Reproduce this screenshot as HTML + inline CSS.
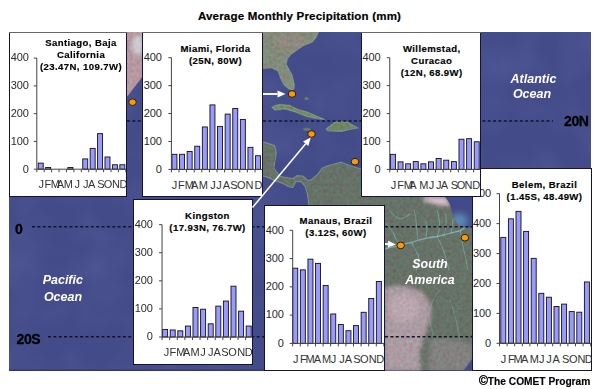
<!DOCTYPE html>
<html><head><meta charset="utf-8"><style>
html,body{margin:0;padding:0;background:#fff;}
body{width:599px;height:389px;overflow:hidden;position:relative;}
svg{position:absolute;left:0;top:0;}
text{font-family:"Liberation Sans",sans-serif;}
.tt{font-size:9.6px;letter-spacing:0.4px;font-weight:bold;text-anchor:middle;fill:#000;stroke:#000;stroke-width:0.15px;}
.yl{font-size:11px;letter-spacing:-0.1px;text-anchor:end;fill:#2a2a2a;}
.ml{font-size:11px;text-anchor:middle;fill:#333;}
.lat{font-size:14px;letter-spacing:-0.4px;font-weight:bold;fill:#000;stroke:#000;stroke-width:0.3px;}
.oc{font-size:12.5px;font-weight:bold;font-style:italic;fill:#fff;text-anchor:middle;}
.ti{font-size:11.5px;letter-spacing:0.2px;font-weight:bold;fill:#000;stroke:#000;stroke-width:0.2px;text-anchor:middle;}
.cp{font-size:10.2px;font-weight:bold;fill:#000;stroke:#000;stroke-width:0.15px;}
</style></head><body>
<svg width="599" height="389" viewBox="0 0 599 389">
<text x="299.5" y="20" class="ti">Average Monthly Precipitation (mm)</text>
<rect x="9" y="32" width="582" height="339" fill="rgb(67,76,137)"/>
<defs><filter id="mott" x="0" y="0" width="100%" height="100%"><feTurbulence type="fractalNoise" baseFrequency="0.025" numOctaves="2" seed="3"/><feColorMatrix type="matrix" values="0 0 0 0 0.45  0 0 0 0 0.5  0 0 0 0 0.8  1.2 0 0 0 -0.45"/></filter></defs>
<rect x="9" y="32" width="582" height="338" filter="url(#mott)" opacity="0.14"/>
<rect x="9" y="369.6" width="582" height="1.2" fill="rgb(45,50,105)"/>
<defs><filter id="soft" x="-5%" y="-5%" width="110%" height="110%"><feGaussianBlur stdDeviation="0.5"/></filter><filter id="blur2" x="-50%" y="-50%" width="200%" height="200%"><feGaussianBlur stdDeviation="2.2"/></filter><filter id="blur3" x="-50%" y="-50%" width="200%" height="200%"><feGaussianBlur stdDeviation="3"/></filter><filter id="noise" x="0" y="0" width="100%" height="100%"><feTurbulence type="fractalNoise" baseFrequency="0.3" numOctaves="2" seed="7"/><feColorMatrix type="matrix" values="1.0 -0.2 0 0 0.1  -0.3 0.9 0 0 0.2  0.5 0.5 0 0 0  0 0 0 0 1"/></filter><clipPath id="mapclip"><rect x="9" y="32" width="582" height="338"/></clipPath><clipPath id="landclip"><polygon points="126,32 143,32 143,76 136,85 130,93 126,98"/><polygon points="262,32 318.5,32 316.2,37.2 312,42.3 303.8,45.4 297.6,49.5 290.4,54.7 287.3,58.8 286.3,64 287.4,66.6 292,74.7 294.4,85 294,88.5 292.5,90.2 288.6,88.8 284,85 280.5,78.1 278.2,71.2 272.4,68.3 262,68.9"/><polygon points="271.9,107.2 275,105.5 279.9,104.4 289.5,105.3 298,109.5 306.6,111.7 314,114.9 324.8,119.6 317.3,118.6 306.6,116.4 295.9,112.2 285.2,108.9 279,109.6 274.5,110"/><polygon points="326,129 335,122 346,121.4 358,128 349.8,129.5 341.8,131.4 327.8,131"/><polygon points="303,128.5 307,127.5 311,129 310,131 304,130.5"/><polygon points="262,142 265,142.4 274.6,145.4 276.4,152.6 274.6,163.4 274,168 276,171 280.5,176.5 286.7,177.5 292.8,178.5 297,175.6 303.1,176 308.2,180.6 311.3,179.6 317.5,174.4 322,168.2 327,166 341,162 348.6,164.9 358,168 362,168.5 362,197 473,197 473,371 384,371 384,206 308.5,206 308.2,200 307.2,193.9 305.2,186.7 301,181.6 296,181.6 292.8,187.7 288.7,186.7 282.6,183.6 274.3,180.6 265,176.4 262,176"/></clipPath></defs>
<g filter="url(#soft)" clip-path="url(#mapclip)"><polygon points="126,32 143,32 143,76 136,85 130,93 126,98" fill="rgb(168,132,142)"/><polygon points="262,32 318.5,32 316.2,37.2 312,42.3 303.8,45.4 297.6,49.5 290.4,54.7 287.3,58.8 286.3,64 287.4,66.6 292,74.7 294.4,85 294,88.5 292.5,90.2 288.6,88.8 284,85 280.5,78.1 278.2,71.2 272.4,68.3 262,68.9" fill="rgb(112,120,104)"/><polygon points="271.9,107.2 275,105.5 279.9,104.4 289.5,105.3 298,109.5 306.6,111.7 314,114.9 324.8,119.6 317.3,118.6 306.6,116.4 295.9,112.2 285.2,108.9 279,109.6 274.5,110" fill="rgb(100,120,80)"/><polygon points="326,129 335,122 346,121.4 358,128 349.8,129.5 341.8,131.4 327.8,131" fill="rgb(96,115,82)"/><polygon points="303,128.5 307,127.5 311,129 310,131 304,130.5" fill="rgb(92,108,84)"/><polygon points="262,142 265,142.4 274.6,145.4 276.4,152.6 274.6,163.4 274,168 276,171 280.5,176.5 286.7,177.5 292.8,178.5 297,175.6 303.1,176 308.2,180.6 311.3,179.6 317.5,174.4 322,168.2 327,166 341,162 348.6,164.9 358,168 362,168.5 362,197 473,197 473,371 384,371 384,206 308.5,206 308.2,200 307.2,193.9 305.2,186.7 301,181.6 296,181.6 292.8,187.7 288.7,186.7 282.6,183.6 274.3,180.6 265,176.4 262,176" fill="rgb(88,98,88)"/><ellipse cx="306.5" cy="98.5" rx="2" ry="1.6" fill="rgb(110,140,120)" opacity="0.8"/><polyline points="318.5,32 316.2,37.2 312,42.3 303.8,45.4 297.6,49.5 290.4,54.7 287.3,58.8 286.3,64 287.4,66.6 292,74.7 294.4,85 294,88.5 292.5,90.2 288.6,88.8 284,85 280.5,78.1 278.2,71.2 272.4,68.3" fill="none" stroke="rgb(135,160,150)" stroke-width="1.1" opacity="0.55"/><polygon points="271.9,107.2 275,105.5 279.9,104.4 289.5,105.3 298,109.5 306.6,111.7 314,114.9 324.8,119.6 317.3,118.6 306.6,116.4 295.9,112.2 285.2,108.9 279,109.6 274.5,110" fill="none" stroke="rgb(135,160,150)" stroke-width="1.1" opacity="0.55"/><polygon points="326,129 335,122 346,121.4 358,128 349.8,129.5 341.8,131.4 327.8,131" fill="none" stroke="rgb(135,160,150)" stroke-width="1.1" opacity="0.55"/><polyline points="262,142 265,142.4 274.6,145.4 276.4,152.6 274.6,163.4 274,168 276,171 280.5,176.5 286.7,177.5 292.8,178.5 297,175.6 303.1,176 308.2,180.6 311.3,179.6 317.5,174.4 322,168.2 327,166 341,162 348.6,164.9 358,168 362,168.5" fill="none" stroke="rgb(135,160,150)" stroke-width="1.1" opacity="0.55"/><polyline points="308.5,206 308.2,200 307.2,193.9 305.2,186.7 301,181.6 296,181.6 292.8,187.7 288.7,186.7 282.6,183.6 274.3,180.6 265,176.4 262,176" fill="none" stroke="rgb(135,160,150)" stroke-width="1.1" opacity="0.55"/><path d="M384,249 Q392,247 400,245.3 Q406,243.5 411.8,242.3 Q418,240 423.4,238.8 Q430,237.5 437.2,236.5 Q444,235 451,233 Q456,232 460.4,230.7 Q463,229 465,227.2" fill="none" stroke="rgb(112,165,168)" stroke-linecap="round" stroke-width="1.3" opacity="0.85"/><path d="M400,245.3 Q396,240 393.3,233 Q390,228 386.3,223.8 M418,240 Q417,232 416.4,223.8 Q416,216 414,210 M437.2,236.5 Q440,230 439.5,223.8 Q439,216 437.2,210 M451,233 Q453,226 453,219 M411.8,242.3 Q416,252 418.7,256 Q418,265 416.4,270 M437.2,236.5 Q442,246 444,252 Q447,262 449,270 M460.4,230.7 Q462,240 463,247 Q466,258 468,270 M389,210 Q396,219 401,219 Q407,217 410,214 M426,238 Q428,230 426,222 M444,235 Q447,226 446,214" fill="none" stroke="rgb(112,165,168)" stroke-linecap="round" stroke-width="0.9" opacity="0.6"/><path d="M395,290 Q400,300 404,315 M420,300 Q428,310 432,330 Q436,345 440,360 M450,300 Q456,315 460,340 M405,340 Q415,350 425,365 M440,290 Q430,300 428,320" fill="none" stroke="rgb(112,165,168)" stroke-linecap="round" stroke-width="0.8" opacity="0.4"/></g>
<g clip-path="url(#landclip)"><g filter="url(#blur2)"><path d="M424,197 L444,197 Q449,201 450,205 Q444,206 436,204 Q428,202 424,201 Z" fill="rgb(215,180,195)"/><path d="M384,288 Q402,282 422,292 Q434,304 430,320 Q424,336 420,350 Q418,362 422,371 L384,371 Z" fill="rgb(155,136,144)"/><ellipse cx="404" cy="308" rx="15" ry="14" fill="rgb(185,162,172)" opacity="0.55"/><path d="M430,340 Q450,335 473,345 L473,371 L428,371 Z" fill="rgb(135,125,130)" opacity="0.5"/><ellipse cx="290" cy="42" rx="16" ry="8" fill="rgb(140,115,120)" opacity="0.45"/><ellipse cx="138" cy="45" rx="6" ry="10" fill="rgb(205,222,225)" opacity="0.7"/></g></g>
<g clip-path="url(#landclip)" opacity="0.35" style="mix-blend-mode:overlay"><rect x="9" y="32" width="582" height="338" filter="url(#noise)"/></g>
<defs><clipPath id="gclip"><path d="M444,196 L473,196 L473,227.5 L461,227.3 Q457,224 455.7,221.8 Q453.5,218 452.6,214.6 Q451.8,210 450.6,206.3 Q449,202 447.5,200 Q446,197.5 444,196 Z"/></clipPath></defs>
<g filter="url(#soft)"><path d="M444,196 L473,196 L473,227.5 L461,227.3 Q457,224 455.7,221.8 Q453.5,218 452.6,214.6 Q451.8,210 450.6,206.3 Q449,202 447.5,200 Q446,197.5 444,196 Z" fill="rgb(67,76,137)"/><polygon points="464,370 473,358 473,370" fill="rgb(67,76,137)"/></g>
<g clip-path="url(#gclip)"><ellipse cx="459" cy="221" rx="9" ry="8" fill="rgb(105,160,195)" opacity="0.7" filter="url(#blur3)"/></g>
<line x1="263" y1="121" x2="553" y2="121" stroke="#141428" stroke-width="1.5" stroke-dasharray="3 2.35"/>
<line x1="127" y1="121" x2="142" y2="121" stroke="#141428" stroke-width="1.5" stroke-dasharray="3 2.35"/>
<line x1="32" y1="226.8" x2="473" y2="226.8" stroke="#141428" stroke-width="1.5" stroke-dasharray="3 2.35"/>
<line x1="48" y1="336.8" x2="473" y2="336.8" stroke="#141428" stroke-width="1.5" stroke-dasharray="3 2.35"/>
<text x="564" y="125.7" class="lat">20N</text>
<text x="14.9" y="233.9" class="lat">0</text>
<text x="16.6" y="344" class="lat">20S</text>
<text x="533.5" y="82.6" class="oc">Atlantic</text>
<text x="532" y="98.3" class="oc">Ocean</text>
<text x="62.8" y="284" class="oc">Pacific</text>
<text x="63" y="301" class="oc">Ocean</text>
<text x="430" y="267.7" class="oc">South</text>
<text x="430" y="283.9" class="oc">America</text>
<line x1="262" y1="94" x2="277.50" y2="94.00" stroke="#fff" stroke-width="1.9"/><polygon points="285.50,94.00 277.50,97.40 277.50,90.60" fill="#fff"/>
<line x1="385" y1="244" x2="388.01" y2="244.14" stroke="#fff" stroke-width="1.9"/><polygon points="396.00,244.50 387.85,247.53 388.16,240.74" fill="#fff"/>
<ellipse cx="132.5" cy="102.2" rx="3.8" ry="3.35" fill="#f89a00" stroke="#1c1c30" stroke-width="1"/>
<ellipse cx="292" cy="94" rx="3.8" ry="3.35" fill="#f89a00" stroke="#1c1c30" stroke-width="1"/>
<ellipse cx="311.5" cy="134" rx="3.8" ry="3.35" fill="#f89a00" stroke="#1c1c30" stroke-width="1"/>
<ellipse cx="355" cy="161.7" rx="3.8" ry="3.35" fill="#f89a00" stroke="#1c1c30" stroke-width="1"/>
<ellipse cx="400.7" cy="245.4" rx="3.8" ry="3.35" fill="#f89a00" stroke="#1c1c30" stroke-width="1"/>
<ellipse cx="464.9" cy="237.7" rx="3.8" ry="3.35" fill="#f89a00" stroke="#1c1c30" stroke-width="1"/>
<g>
<rect x="9.5" y="32.5" width="117" height="164" fill="#fff" stroke="#14143a" stroke-width="1"/>
<line x1="9" y1="32.5" x2="127" y2="32.5" stroke="#fff" stroke-width="1"/>
<line x1="9" y1="32.5" x2="127" y2="32.5" stroke="#555" stroke-width="0.9"/>
<text x="81" y="46" class="tt">Santiago, Baja</text>
<text x="81" y="58" class="tt">California</text>
<text x="81" y="70" class="tt">(23.47N, 109.7W)</text>
<clipPath id="cs"><rect x="10" y="33" width="116" height="163"/></clipPath>
<g clip-path="url(#cs)">
<rect x="38.21" y="163.09" width="5" height="6.11" fill="#9999ff" stroke="#111" stroke-width="0.9"/>
<rect x="45.63" y="167.53" width="5" height="1.67" fill="#9999ff" stroke="#111" stroke-width="0.9"/>
<rect x="67.89" y="167.53" width="5" height="1.67" fill="#9999ff" stroke="#111" stroke-width="0.9"/>
<rect x="82.73" y="158.92" width="5" height="10.28" fill="#9999ff" stroke="#111" stroke-width="0.9"/>
<rect x="90.15" y="148.37" width="5" height="20.83" fill="#9999ff" stroke="#111" stroke-width="0.9"/>
<rect x="97.57" y="133.65" width="5" height="35.55" fill="#9999ff" stroke="#111" stroke-width="0.9"/>
<rect x="104.99" y="156.98" width="5" height="12.22" fill="#9999ff" stroke="#111" stroke-width="0.9"/>
<rect x="112.41" y="164.76" width="5" height="4.44" fill="#9999ff" stroke="#111" stroke-width="0.9"/>
<rect x="119.83" y="164.76" width="5" height="4.44" fill="#9999ff" stroke="#111" stroke-width="0.9"/>
<line x1="36.800000000000004" y1="58.1" x2="36.800000000000004" y2="169.2" stroke="#444" stroke-width="1"/>
<line x1="36.800000000000004" y1="169.2" x2="127" y2="169.2" stroke="#444" stroke-width="1"/>
<line x1="33.800000000000004" y1="169.20" x2="36.800000000000004" y2="169.20" stroke="#444" stroke-width="1"/>
<text x="28.700000000000003" y="172.50" class="yl">0</text>
<line x1="33.800000000000004" y1="141.42" x2="36.800000000000004" y2="141.42" stroke="#444" stroke-width="1"/>
<text x="28.700000000000003" y="144.72" class="yl">100</text>
<line x1="33.800000000000004" y1="113.65" x2="36.800000000000004" y2="113.65" stroke="#444" stroke-width="1"/>
<text x="28.700000000000003" y="116.95" class="yl">200</text>
<line x1="33.800000000000004" y1="85.88" x2="36.800000000000004" y2="85.88" stroke="#444" stroke-width="1"/>
<text x="28.700000000000003" y="89.17" class="yl">300</text>
<line x1="33.800000000000004" y1="58.10" x2="36.800000000000004" y2="58.10" stroke="#444" stroke-width="1"/>
<text x="28.700000000000003" y="61.40" class="yl">400</text>
<line x1="36.80" y1="169.2" x2="36.80" y2="172.2" stroke="#444" stroke-width="1"/>
<line x1="44.22" y1="169.2" x2="44.22" y2="172.2" stroke="#444" stroke-width="1"/>
<line x1="51.64" y1="169.2" x2="51.64" y2="172.2" stroke="#444" stroke-width="1"/>
<line x1="59.06" y1="169.2" x2="59.06" y2="172.2" stroke="#444" stroke-width="1"/>
<line x1="66.48" y1="169.2" x2="66.48" y2="172.2" stroke="#444" stroke-width="1"/>
<line x1="73.90" y1="169.2" x2="73.90" y2="172.2" stroke="#444" stroke-width="1"/>
<line x1="81.32" y1="169.2" x2="81.32" y2="172.2" stroke="#444" stroke-width="1"/>
<line x1="88.74" y1="169.2" x2="88.74" y2="172.2" stroke="#444" stroke-width="1"/>
<line x1="96.16" y1="169.2" x2="96.16" y2="172.2" stroke="#444" stroke-width="1"/>
<line x1="103.58" y1="169.2" x2="103.58" y2="172.2" stroke="#444" stroke-width="1"/>
<line x1="111.00" y1="169.2" x2="111.00" y2="172.2" stroke="#444" stroke-width="1"/>
<line x1="118.42" y1="169.2" x2="118.42" y2="172.2" stroke="#444" stroke-width="1"/>
<line x1="125.84" y1="169.2" x2="125.84" y2="172.2" stroke="#444" stroke-width="1"/>
<text x="41.30" y="188.0" class="ml">J</text>
<text x="47.90" y="188.0" class="ml">F</text>
<text x="55.40" y="188.0" class="ml">M</text>
<text x="60.50" y="188.0" class="ml">A</text>
<text x="68.40" y="188.0" class="ml">M</text>
<text x="77.20" y="188.0" class="ml">J</text>
<text x="85.80" y="188.0" class="ml">J</text>
<text x="91.70" y="188.0" class="ml">A</text>
<text x="100.90" y="188.0" class="ml">S</text>
<text x="108.00" y="188.0" class="ml">O</text>
<text x="115.90" y="188.0" class="ml">N</text>
<text x="123.40" y="188.0" class="ml">D</text>
</g>
</g>
<g>
<rect x="142.5" y="32.5" width="120" height="164" fill="#fff" stroke="#14143a" stroke-width="1"/>
<line x1="142" y1="32.5" x2="263" y2="32.5" stroke="#fff" stroke-width="1"/>
<line x1="142" y1="32.5" x2="263" y2="32.5" stroke="#555" stroke-width="0.9"/>
<text x="215.5" y="52.1" class="tt">Miami, Florida</text>
<text x="215.5" y="64.1" class="tt">(25N, 80W)</text>
<clipPath id="cm"><rect x="143" y="33" width="119" height="163"/></clipPath>
<g clip-path="url(#cm)">
<rect x="171.95" y="154.32" width="5" height="15.08" fill="#9999ff" stroke="#111" stroke-width="0.9"/>
<rect x="179.55" y="154.32" width="5" height="15.08" fill="#9999ff" stroke="#111" stroke-width="0.9"/>
<rect x="187.15" y="151.53" width="5" height="17.87" fill="#9999ff" stroke="#111" stroke-width="0.9"/>
<rect x="194.75" y="146.22" width="5" height="23.18" fill="#9999ff" stroke="#111" stroke-width="0.9"/>
<rect x="202.35" y="126.95" width="5" height="42.45" fill="#9999ff" stroke="#111" stroke-width="0.9"/>
<rect x="209.95" y="104.89" width="5" height="64.51" fill="#9999ff" stroke="#111" stroke-width="0.9"/>
<rect x="217.55" y="126.40" width="5" height="43.00" fill="#9999ff" stroke="#111" stroke-width="0.9"/>
<rect x="225.15" y="114.11" width="5" height="55.29" fill="#9999ff" stroke="#111" stroke-width="0.9"/>
<rect x="232.75" y="108.52" width="5" height="60.88" fill="#9999ff" stroke="#111" stroke-width="0.9"/>
<rect x="240.35" y="119.41" width="5" height="49.99" fill="#9999ff" stroke="#111" stroke-width="0.9"/>
<rect x="247.95" y="147.34" width="5" height="22.06" fill="#9999ff" stroke="#111" stroke-width="0.9"/>
<rect x="255.55" y="155.72" width="5" height="13.68" fill="#9999ff" stroke="#111" stroke-width="0.9"/>
<line x1="171.4" y1="57.7" x2="171.4" y2="169.4" stroke="#444" stroke-width="1"/>
<line x1="171.4" y1="169.4" x2="263" y2="169.4" stroke="#444" stroke-width="1"/>
<line x1="168.4" y1="169.40" x2="171.4" y2="169.40" stroke="#444" stroke-width="1"/>
<text x="161.9" y="172.70" class="yl">0</text>
<line x1="168.4" y1="141.47" x2="171.4" y2="141.47" stroke="#444" stroke-width="1"/>
<text x="161.9" y="144.78" class="yl">100</text>
<line x1="168.4" y1="113.55" x2="171.4" y2="113.55" stroke="#444" stroke-width="1"/>
<text x="161.9" y="116.85" class="yl">200</text>
<line x1="168.4" y1="85.62" x2="171.4" y2="85.62" stroke="#444" stroke-width="1"/>
<text x="161.9" y="88.92" class="yl">300</text>
<line x1="168.4" y1="57.70" x2="171.4" y2="57.70" stroke="#444" stroke-width="1"/>
<text x="161.9" y="61.00" class="yl">400</text>
<line x1="171.40" y1="169.4" x2="171.40" y2="172.4" stroke="#444" stroke-width="1"/>
<line x1="179.00" y1="169.4" x2="179.00" y2="172.4" stroke="#444" stroke-width="1"/>
<line x1="186.60" y1="169.4" x2="186.60" y2="172.4" stroke="#444" stroke-width="1"/>
<line x1="194.20" y1="169.4" x2="194.20" y2="172.4" stroke="#444" stroke-width="1"/>
<line x1="201.80" y1="169.4" x2="201.80" y2="172.4" stroke="#444" stroke-width="1"/>
<line x1="209.40" y1="169.4" x2="209.40" y2="172.4" stroke="#444" stroke-width="1"/>
<line x1="217.00" y1="169.4" x2="217.00" y2="172.4" stroke="#444" stroke-width="1"/>
<line x1="224.60" y1="169.4" x2="224.60" y2="172.4" stroke="#444" stroke-width="1"/>
<line x1="232.20" y1="169.4" x2="232.20" y2="172.4" stroke="#444" stroke-width="1"/>
<line x1="239.80" y1="169.4" x2="239.80" y2="172.4" stroke="#444" stroke-width="1"/>
<line x1="247.40" y1="169.4" x2="247.40" y2="172.4" stroke="#444" stroke-width="1"/>
<line x1="255.00" y1="169.4" x2="255.00" y2="172.4" stroke="#444" stroke-width="1"/>
<line x1="262.60" y1="169.4" x2="262.60" y2="172.4" stroke="#444" stroke-width="1"/>
<text x="174.60" y="188.5" class="ml">J</text>
<text x="181.30" y="188.5" class="ml">F</text>
<text x="189.40" y="188.5" class="ml">M</text>
<text x="194.60" y="188.5" class="ml">A</text>
<text x="203.40" y="188.5" class="ml">M</text>
<text x="213.00" y="188.5" class="ml">J</text>
<text x="219.00" y="188.5" class="ml">J</text>
<text x="226.30" y="188.5" class="ml">A</text>
<text x="233.80" y="188.5" class="ml">S</text>
<text x="241.30" y="188.5" class="ml">O</text>
<text x="249.60" y="188.5" class="ml">N</text>
<text x="258.40" y="188.5" class="ml">D</text>
</g>
</g>
<g>
<rect x="133.5" y="199.5" width="119" height="165" fill="#fff" stroke="#14143a" stroke-width="1"/>
<text x="207.5" y="219.3" class="tt">Kingston</text>
<text x="207.5" y="231.3" class="tt">(17.93N, 76.7W)</text>
<clipPath id="ck"><rect x="134" y="200" width="118" height="164"/></clipPath>
<g clip-path="url(#ck)">
<rect x="162.60" y="329.42" width="5" height="7.58" fill="#9999ff" stroke="#111" stroke-width="0.9"/>
<rect x="170.20" y="329.98" width="5" height="7.02" fill="#9999ff" stroke="#111" stroke-width="0.9"/>
<rect x="177.80" y="330.82" width="5" height="6.18" fill="#9999ff" stroke="#111" stroke-width="0.9"/>
<rect x="185.40" y="326.05" width="5" height="10.95" fill="#9999ff" stroke="#111" stroke-width="0.9"/>
<rect x="193.00" y="307.52" width="5" height="29.48" fill="#9999ff" stroke="#111" stroke-width="0.9"/>
<rect x="200.60" y="309.21" width="5" height="27.79" fill="#9999ff" stroke="#111" stroke-width="0.9"/>
<rect x="208.20" y="323.80" width="5" height="13.20" fill="#9999ff" stroke="#111" stroke-width="0.9"/>
<rect x="215.80" y="306.12" width="5" height="30.88" fill="#9999ff" stroke="#111" stroke-width="0.9"/>
<rect x="223.40" y="301.06" width="5" height="35.94" fill="#9999ff" stroke="#111" stroke-width="0.9"/>
<rect x="231.00" y="286.18" width="5" height="50.82" fill="#9999ff" stroke="#111" stroke-width="0.9"/>
<rect x="238.60" y="311.17" width="5" height="25.83" fill="#9999ff" stroke="#111" stroke-width="0.9"/>
<rect x="246.20" y="326.05" width="5" height="10.95" fill="#9999ff" stroke="#111" stroke-width="0.9"/>
<line x1="162.05" y1="224.7" x2="162.05" y2="337" stroke="#444" stroke-width="1"/>
<line x1="162.05" y1="337" x2="253" y2="337" stroke="#444" stroke-width="1"/>
<line x1="159.05" y1="337.00" x2="162.05" y2="337.00" stroke="#444" stroke-width="1"/>
<text x="152.8" y="340.30" class="yl">0</text>
<line x1="159.05" y1="308.93" x2="162.05" y2="308.93" stroke="#444" stroke-width="1"/>
<text x="152.8" y="312.23" class="yl">100</text>
<line x1="159.05" y1="280.85" x2="162.05" y2="280.85" stroke="#444" stroke-width="1"/>
<text x="152.8" y="284.15" class="yl">200</text>
<line x1="159.05" y1="252.77" x2="162.05" y2="252.77" stroke="#444" stroke-width="1"/>
<text x="152.8" y="256.07" class="yl">300</text>
<line x1="159.05" y1="224.70" x2="162.05" y2="224.70" stroke="#444" stroke-width="1"/>
<text x="152.8" y="228.00" class="yl">400</text>
<line x1="162.05" y1="337" x2="162.05" y2="340" stroke="#444" stroke-width="1"/>
<line x1="169.65" y1="337" x2="169.65" y2="340" stroke="#444" stroke-width="1"/>
<line x1="177.25" y1="337" x2="177.25" y2="340" stroke="#444" stroke-width="1"/>
<line x1="184.85" y1="337" x2="184.85" y2="340" stroke="#444" stroke-width="1"/>
<line x1="192.45" y1="337" x2="192.45" y2="340" stroke="#444" stroke-width="1"/>
<line x1="200.05" y1="337" x2="200.05" y2="340" stroke="#444" stroke-width="1"/>
<line x1="207.65" y1="337" x2="207.65" y2="340" stroke="#444" stroke-width="1"/>
<line x1="215.25" y1="337" x2="215.25" y2="340" stroke="#444" stroke-width="1"/>
<line x1="222.85" y1="337" x2="222.85" y2="340" stroke="#444" stroke-width="1"/>
<line x1="230.45" y1="337" x2="230.45" y2="340" stroke="#444" stroke-width="1"/>
<line x1="238.05" y1="337" x2="238.05" y2="340" stroke="#444" stroke-width="1"/>
<line x1="245.65" y1="337" x2="245.65" y2="340" stroke="#444" stroke-width="1"/>
<line x1="253.25" y1="337" x2="253.25" y2="340" stroke="#444" stroke-width="1"/>
<text x="166.40" y="356" class="ml">J</text>
<text x="172.90" y="356" class="ml">F</text>
<text x="180.90" y="356" class="ml">M</text>
<text x="186.70" y="356" class="ml">A</text>
<text x="195.10" y="356" class="ml">M</text>
<text x="203.00" y="356" class="ml">J</text>
<text x="210.80" y="356" class="ml">J</text>
<text x="217.10" y="356" class="ml">A</text>
<text x="225.00" y="356" class="ml">S</text>
<text x="232.50" y="356" class="ml">O</text>
<text x="241.30" y="356" class="ml">N</text>
<text x="248.80" y="356" class="ml">D</text>
</g>
</g>
<g>
<rect x="264.5" y="205.5" width="120" height="165" fill="#fff" stroke="#14143a" stroke-width="1"/>
<text x="336" y="223.5" class="tt">Manaus, Brazil</text>
<text x="336" y="235.5" class="tt">(3.12S, 60W)</text>
<clipPath id="cn"><rect x="265" y="206" width="119" height="164"/></clipPath>
<g clip-path="url(#cn)">
<rect x="292.75" y="268.19" width="5" height="75.21" fill="#9999ff" stroke="#111" stroke-width="0.9"/>
<rect x="300.35" y="269.88" width="5" height="73.51" fill="#9999ff" stroke="#111" stroke-width="0.9"/>
<rect x="307.95" y="259.14" width="5" height="84.26" fill="#9999ff" stroke="#111" stroke-width="0.9"/>
<rect x="315.55" y="263.38" width="5" height="80.02" fill="#9999ff" stroke="#111" stroke-width="0.9"/>
<rect x="323.15" y="285.44" width="5" height="57.96" fill="#9999ff" stroke="#111" stroke-width="0.9"/>
<rect x="330.75" y="313.99" width="5" height="29.41" fill="#9999ff" stroke="#111" stroke-width="0.9"/>
<rect x="338.35" y="324.46" width="5" height="18.94" fill="#9999ff" stroke="#111" stroke-width="0.9"/>
<rect x="345.95" y="330.68" width="5" height="12.72" fill="#9999ff" stroke="#111" stroke-width="0.9"/>
<rect x="353.55" y="325.59" width="5" height="17.81" fill="#9999ff" stroke="#111" stroke-width="0.9"/>
<rect x="361.15" y="312.30" width="5" height="31.10" fill="#9999ff" stroke="#111" stroke-width="0.9"/>
<rect x="368.75" y="298.44" width="5" height="44.96" fill="#9999ff" stroke="#111" stroke-width="0.9"/>
<rect x="376.35" y="281.48" width="5" height="61.92" fill="#9999ff" stroke="#111" stroke-width="0.9"/>
<line x1="292.7" y1="230.3" x2="292.7" y2="343.4" stroke="#444" stroke-width="1"/>
<line x1="292.7" y1="343.4" x2="385" y2="343.4" stroke="#444" stroke-width="1"/>
<line x1="289.7" y1="343.40" x2="292.7" y2="343.40" stroke="#444" stroke-width="1"/>
<text x="283.7" y="346.70" class="yl">0</text>
<line x1="289.7" y1="315.12" x2="292.7" y2="315.12" stroke="#444" stroke-width="1"/>
<text x="283.7" y="318.43" class="yl">100</text>
<line x1="289.7" y1="286.85" x2="292.7" y2="286.85" stroke="#444" stroke-width="1"/>
<text x="283.7" y="290.15" class="yl">200</text>
<line x1="289.7" y1="258.57" x2="292.7" y2="258.57" stroke="#444" stroke-width="1"/>
<text x="283.7" y="261.88" class="yl">300</text>
<line x1="289.7" y1="230.30" x2="292.7" y2="230.30" stroke="#444" stroke-width="1"/>
<text x="283.7" y="233.60" class="yl">400</text>
<line x1="292.70" y1="343.4" x2="292.70" y2="346.4" stroke="#444" stroke-width="1"/>
<line x1="300.30" y1="343.4" x2="300.30" y2="346.4" stroke="#444" stroke-width="1"/>
<line x1="307.90" y1="343.4" x2="307.90" y2="346.4" stroke="#444" stroke-width="1"/>
<line x1="315.50" y1="343.4" x2="315.50" y2="346.4" stroke="#444" stroke-width="1"/>
<line x1="323.10" y1="343.4" x2="323.10" y2="346.4" stroke="#444" stroke-width="1"/>
<line x1="330.70" y1="343.4" x2="330.70" y2="346.4" stroke="#444" stroke-width="1"/>
<line x1="338.30" y1="343.4" x2="338.30" y2="346.4" stroke="#444" stroke-width="1"/>
<line x1="345.90" y1="343.4" x2="345.90" y2="346.4" stroke="#444" stroke-width="1"/>
<line x1="353.50" y1="343.4" x2="353.50" y2="346.4" stroke="#444" stroke-width="1"/>
<line x1="361.10" y1="343.4" x2="361.10" y2="346.4" stroke="#444" stroke-width="1"/>
<line x1="368.70" y1="343.4" x2="368.70" y2="346.4" stroke="#444" stroke-width="1"/>
<line x1="376.30" y1="343.4" x2="376.30" y2="346.4" stroke="#444" stroke-width="1"/>
<line x1="383.90" y1="343.4" x2="383.90" y2="346.4" stroke="#444" stroke-width="1"/>
<text x="295.80" y="363.0" class="ml">J</text>
<text x="303.40" y="363.0" class="ml">F</text>
<text x="310.00" y="363.0" class="ml">M</text>
<text x="317.50" y="363.0" class="ml">A</text>
<text x="326.70" y="363.0" class="ml">M</text>
<text x="333.40" y="363.0" class="ml">J</text>
<text x="342.00" y="363.0" class="ml">J</text>
<text x="348.50" y="363.0" class="ml">A</text>
<text x="356.90" y="363.0" class="ml">S</text>
<text x="364.40" y="363.0" class="ml">O</text>
<text x="372.70" y="363.0" class="ml">N</text>
<text x="380.20" y="363.0" class="ml">D</text>
</g>
</g>
<g>
<rect x="472.5" y="168.5" width="119" height="202" fill="#fff" stroke="#14143a" stroke-width="1"/>
<text x="544.5" y="188" class="tt">Belem, Brazil</text>
<text x="544.5" y="200" class="tt">(1.45S, 48.49W)</text>
<clipPath id="cb"><rect x="473" y="169" width="118" height="201"/></clipPath>
<g clip-path="url(#cb)">
<rect x="500.80" y="237.38" width="5" height="105.92" fill="#9999ff" stroke="#111" stroke-width="0.9"/>
<rect x="508.40" y="218.83" width="5" height="124.47" fill="#9999ff" stroke="#111" stroke-width="0.9"/>
<rect x="516.00" y="211.35" width="5" height="131.95" fill="#9999ff" stroke="#111" stroke-width="0.9"/>
<rect x="523.60" y="231.40" width="5" height="111.90" fill="#9999ff" stroke="#111" stroke-width="0.9"/>
<rect x="531.20" y="258.33" width="5" height="84.97" fill="#9999ff" stroke="#111" stroke-width="0.9"/>
<rect x="538.80" y="293.33" width="5" height="49.97" fill="#9999ff" stroke="#111" stroke-width="0.9"/>
<rect x="546.40" y="297.22" width="5" height="46.08" fill="#9999ff" stroke="#111" stroke-width="0.9"/>
<rect x="554.00" y="306.50" width="5" height="36.80" fill="#9999ff" stroke="#111" stroke-width="0.9"/>
<rect x="561.60" y="304.10" width="5" height="39.20" fill="#9999ff" stroke="#111" stroke-width="0.9"/>
<rect x="569.20" y="311.58" width="5" height="31.72" fill="#9999ff" stroke="#111" stroke-width="0.9"/>
<rect x="576.80" y="312.18" width="5" height="31.12" fill="#9999ff" stroke="#111" stroke-width="0.9"/>
<rect x="584.40" y="281.96" width="5" height="61.34" fill="#9999ff" stroke="#111" stroke-width="0.9"/>
<line x1="499.5" y1="193.7" x2="499.5" y2="343.3" stroke="#444" stroke-width="1"/>
<line x1="499.5" y1="343.3" x2="592" y2="343.3" stroke="#444" stroke-width="1"/>
<line x1="496.5" y1="343.30" x2="499.5" y2="343.30" stroke="#444" stroke-width="1"/>
<text x="491.0" y="346.60" class="yl">0</text>
<line x1="496.5" y1="313.38" x2="499.5" y2="313.38" stroke="#444" stroke-width="1"/>
<text x="491.0" y="316.68" class="yl">100</text>
<line x1="496.5" y1="283.46" x2="499.5" y2="283.46" stroke="#444" stroke-width="1"/>
<text x="491.0" y="286.76" class="yl">200</text>
<line x1="496.5" y1="253.54" x2="499.5" y2="253.54" stroke="#444" stroke-width="1"/>
<text x="491.0" y="256.84" class="yl">300</text>
<line x1="496.5" y1="223.62" x2="499.5" y2="223.62" stroke="#444" stroke-width="1"/>
<text x="491.0" y="226.92" class="yl">400</text>
<line x1="496.5" y1="193.70" x2="499.5" y2="193.70" stroke="#444" stroke-width="1"/>
<text x="491.0" y="197.00" class="yl">500</text>
<line x1="499.50" y1="343.3" x2="499.50" y2="346.3" stroke="#444" stroke-width="1"/>
<line x1="507.10" y1="343.3" x2="507.10" y2="346.3" stroke="#444" stroke-width="1"/>
<line x1="514.70" y1="343.3" x2="514.70" y2="346.3" stroke="#444" stroke-width="1"/>
<line x1="522.30" y1="343.3" x2="522.30" y2="346.3" stroke="#444" stroke-width="1"/>
<line x1="529.90" y1="343.3" x2="529.90" y2="346.3" stroke="#444" stroke-width="1"/>
<line x1="537.50" y1="343.3" x2="537.50" y2="346.3" stroke="#444" stroke-width="1"/>
<line x1="545.10" y1="343.3" x2="545.10" y2="346.3" stroke="#444" stroke-width="1"/>
<line x1="552.70" y1="343.3" x2="552.70" y2="346.3" stroke="#444" stroke-width="1"/>
<line x1="560.30" y1="343.3" x2="560.30" y2="346.3" stroke="#444" stroke-width="1"/>
<line x1="567.90" y1="343.3" x2="567.90" y2="346.3" stroke="#444" stroke-width="1"/>
<line x1="575.50" y1="343.3" x2="575.50" y2="346.3" stroke="#444" stroke-width="1"/>
<line x1="583.10" y1="343.3" x2="583.10" y2="346.3" stroke="#444" stroke-width="1"/>
<line x1="590.70" y1="343.3" x2="590.70" y2="346.3" stroke="#444" stroke-width="1"/>
<text x="503.40" y="363.0" class="ml">J</text>
<text x="511.40" y="363.0" class="ml">F</text>
<text x="518.00" y="363.0" class="ml">M</text>
<text x="524.70" y="363.0" class="ml">A</text>
<text x="534.30" y="363.0" class="ml">M</text>
<text x="541.80" y="363.0" class="ml">J</text>
<text x="549.00" y="363.0" class="ml">J</text>
<text x="556.10" y="363.0" class="ml">A</text>
<text x="565.70" y="363.0" class="ml">S</text>
<text x="573.20" y="363.0" class="ml">O</text>
<text x="581.60" y="363.0" class="ml">N</text>
<text x="588.70" y="363.0" class="ml">D</text>
</g>
</g>
<g>
<rect x="361.5" y="32.5" width="119" height="164" fill="#fff" stroke="#14143a" stroke-width="1"/>
<line x1="361" y1="32.5" x2="481" y2="32.5" stroke="#fff" stroke-width="1"/>
<line x1="361" y1="32.5" x2="481" y2="32.5" stroke="#555" stroke-width="0.9"/>
<text x="431.7" y="52.1" class="tt">Willemstad,</text>
<text x="431.7" y="64.1" class="tt">Curacao</text>
<text x="431.7" y="76.1" class="tt">(12N, 68.9W)</text>
<clipPath id="cw"><rect x="362" y="33" width="118" height="163"/></clipPath>
<g clip-path="url(#cw)">
<rect x="390.41" y="154.32" width="5" height="15.08" fill="#9999ff" stroke="#111" stroke-width="0.9"/>
<rect x="398.03" y="161.86" width="5" height="7.54" fill="#9999ff" stroke="#111" stroke-width="0.9"/>
<rect x="405.65" y="163.81" width="5" height="5.58" fill="#9999ff" stroke="#111" stroke-width="0.9"/>
<rect x="413.27" y="161.58" width="5" height="7.82" fill="#9999ff" stroke="#111" stroke-width="0.9"/>
<rect x="420.89" y="163.81" width="5" height="5.58" fill="#9999ff" stroke="#111" stroke-width="0.9"/>
<rect x="428.51" y="161.86" width="5" height="7.54" fill="#9999ff" stroke="#111" stroke-width="0.9"/>
<rect x="436.13" y="158.51" width="5" height="10.89" fill="#9999ff" stroke="#111" stroke-width="0.9"/>
<rect x="443.75" y="160.18" width="5" height="9.22" fill="#9999ff" stroke="#111" stroke-width="0.9"/>
<rect x="451.37" y="161.58" width="5" height="7.82" fill="#9999ff" stroke="#111" stroke-width="0.9"/>
<rect x="458.99" y="139.24" width="5" height="30.16" fill="#9999ff" stroke="#111" stroke-width="0.9"/>
<rect x="466.61" y="138.68" width="5" height="30.72" fill="#9999ff" stroke="#111" stroke-width="0.9"/>
<rect x="474.23" y="141.75" width="5" height="27.65" fill="#9999ff" stroke="#111" stroke-width="0.9"/>
<line x1="389.75" y1="57.7" x2="389.75" y2="169.4" stroke="#444" stroke-width="1"/>
<line x1="389.75" y1="169.4" x2="481" y2="169.4" stroke="#444" stroke-width="1"/>
<line x1="386.75" y1="169.40" x2="389.75" y2="169.40" stroke="#444" stroke-width="1"/>
<text x="380.5" y="172.70" class="yl">0</text>
<line x1="386.75" y1="141.47" x2="389.75" y2="141.47" stroke="#444" stroke-width="1"/>
<text x="380.5" y="144.78" class="yl">100</text>
<line x1="386.75" y1="113.55" x2="389.75" y2="113.55" stroke="#444" stroke-width="1"/>
<text x="380.5" y="116.85" class="yl">200</text>
<line x1="386.75" y1="85.62" x2="389.75" y2="85.62" stroke="#444" stroke-width="1"/>
<text x="380.5" y="88.92" class="yl">300</text>
<line x1="386.75" y1="57.70" x2="389.75" y2="57.70" stroke="#444" stroke-width="1"/>
<text x="380.5" y="61.00" class="yl">400</text>
<line x1="389.75" y1="169.4" x2="389.75" y2="172.4" stroke="#444" stroke-width="1"/>
<line x1="397.37" y1="169.4" x2="397.37" y2="172.4" stroke="#444" stroke-width="1"/>
<line x1="404.99" y1="169.4" x2="404.99" y2="172.4" stroke="#444" stroke-width="1"/>
<line x1="412.61" y1="169.4" x2="412.61" y2="172.4" stroke="#444" stroke-width="1"/>
<line x1="420.23" y1="169.4" x2="420.23" y2="172.4" stroke="#444" stroke-width="1"/>
<line x1="427.85" y1="169.4" x2="427.85" y2="172.4" stroke="#444" stroke-width="1"/>
<line x1="435.47" y1="169.4" x2="435.47" y2="172.4" stroke="#444" stroke-width="1"/>
<line x1="443.09" y1="169.4" x2="443.09" y2="172.4" stroke="#444" stroke-width="1"/>
<line x1="450.71" y1="169.4" x2="450.71" y2="172.4" stroke="#444" stroke-width="1"/>
<line x1="458.33" y1="169.4" x2="458.33" y2="172.4" stroke="#444" stroke-width="1"/>
<line x1="465.95" y1="169.4" x2="465.95" y2="172.4" stroke="#444" stroke-width="1"/>
<line x1="473.57" y1="169.4" x2="473.57" y2="172.4" stroke="#444" stroke-width="1"/>
<line x1="481.19" y1="169.4" x2="481.19" y2="172.4" stroke="#444" stroke-width="1"/>
<text x="393.60" y="188.5" class="ml">J</text>
<text x="400.70" y="188.5" class="ml">F</text>
<text x="408.40" y="188.5" class="ml">M</text>
<text x="413.00" y="188.5" class="ml">A</text>
<text x="423.90" y="188.5" class="ml">M</text>
<text x="431.40" y="188.5" class="ml">J</text>
<text x="438.80" y="188.5" class="ml">J</text>
<text x="444.30" y="188.5" class="ml">A</text>
<text x="454.40" y="188.5" class="ml">S</text>
<text x="461.10" y="188.5" class="ml">O</text>
<text x="468.60" y="188.5" class="ml">N</text>
<text x="476.30" y="188.5" class="ml">D</text>
</g>
</g>
<line x1="252.5" y1="207.5" x2="305.68" y2="143.74" stroke="#fff" stroke-width="1.5"/><polygon points="310.80,137.60 308.29,145.92 303.06,141.57" fill="#fff"/>
<text x="479" y="385" class="cp"><tspan style="font-size:12px;font-weight:normal;stroke:#111;stroke-width:0.5px">©</tspan>The COMET Program</text>
</svg>
</body></html>
